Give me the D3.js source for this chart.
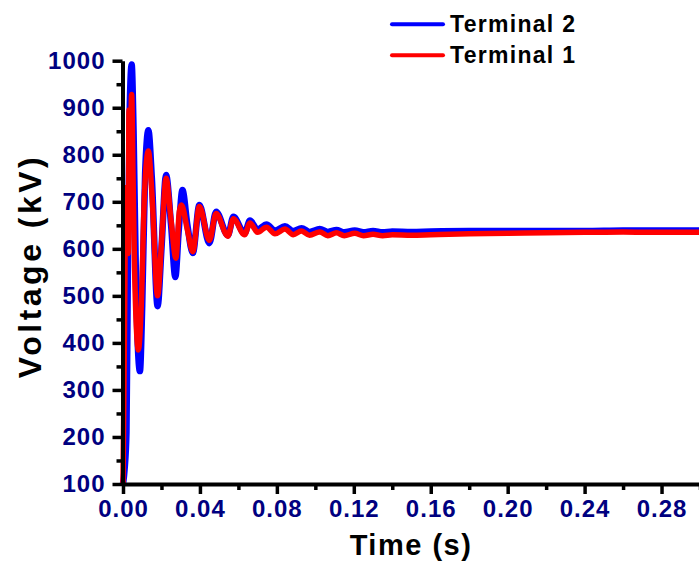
<!DOCTYPE html>
<html>
<head>
<meta charset="utf-8">
<title>Terminal voltage</title>
<script src="https://cdn.jsdelivr.net/npm/d3@7"></script>
<style>
  body { margin: 0; background: #fff; }
  svg text { font-family: "Liberation Sans", Arial, sans-serif; font-weight: bold; }
  .axis path, .axis line { stroke: #000; }
</style>
</head>
<body>
<div id="chart"></div>
<script>
// Terminal 2 (blue)
var t2 = [0, 0.0008, 0.0018, 0.0025, 0.0035, 0.0045, 0.0055, 0.0068, 0.0088, 0.0100,
  0.0115, 0.0132, 0.0150, 0.0180, 0.0200, 0.0224, 0.0250, 0.0272, 0.0290, 0.0309,
  0.0335, 0.0363, 0.0397, 0.0449, 0.0484, 0.0545, 0.0574, 0.0632, 0.0660, 0.0700,
  0.0746, 0.0790, 0.0842, 0.0885, 0.0928, 0.0970, 0.1023, 0.1065, 0.1110, 0.1150,
  0.1205, 0.1250, 0.1300, 0.1350, 0.1400, 0.1500, 0.1600, 0.1800, 0.2000, 0.2200,
  0.2400, 0.2600, 0.2800, 0.3000];
var v2 = [100, 130, 210, 540, 900, 992, 850, 520, 340, 480,
  760, 852, 750, 478, 600, 757, 650, 540, 640, 725,
  650, 591, 693, 612, 679, 629, 668, 633, 660, 641,
  652, 639, 648, 638, 644, 636, 642, 636, 640, 635,
  639, 635, 638, 635, 637, 636, 637, 638, 638, 638,
  638, 639, 639, 639];

// Terminal 1 (red)
var t1 = [0, 0.0005, 0.0010, 0.0014, 0.0020, 0.0027, 0.0031, 0.0038, 0.0045, 0.0052,
  0.0060, 0.0080, 0.0095, 0.0112, 0.0132, 0.0150, 0.0180, 0.0200, 0.0224, 0.0250,
  0.0275, 0.0293, 0.0304, 0.0335, 0.0363, 0.0397, 0.0449, 0.0484, 0.0545, 0.0574,
  0.0632, 0.0660, 0.0700, 0.0746, 0.0790, 0.0842, 0.0885, 0.0928, 0.0970, 0.1023,
  0.1065, 0.1110, 0.1150, 0.1205, 0.1250, 0.1300, 0.1350, 0.1400, 0.1500, 0.1600,
  0.1800, 0.2000, 0.2200, 0.2400, 0.2600, 0.2800, 0.3000];
var v1 = [100, 300, 545, 730, 650, 590, 895, 810, 928, 760,
  560, 385, 480, 720, 808, 720, 500, 610, 750, 660,
  580, 680, 693, 640, 594, 690, 618, 675, 627, 664,
  630, 655, 635, 646, 632, 642, 630, 638, 629, 636,
  628, 634, 628, 633, 628, 631, 628, 630, 629, 630,
  632, 633, 634, 635, 636, 635, 635];

var xMajor = [0, 0.04, 0.08, 0.12, 0.16, 0.20, 0.24, 0.28];
var xMinor = [0.02, 0.06, 0.10, 0.14, 0.18, 0.22, 0.26, 0.30];
var yMajor = [100, 200, 300, 400, 500, 600, 700, 800, 900, 1000];
var yMinor = [150, 250, 350, 450, 550, 650, 750, 850, 950];

var seriesNames = ["Terminal 2", "Terminal 1"];
var seriesColors = ["#0000ff", "#ff0000"];

var W = 699, H = 563;
var svg = d3.select("#chart").append("svg")
  .attr("width", W)
  .attr("height", H);

var x = d3.scaleLinear().domain([0, 0.30]).range([123, 700]);
var y = d3.scaleLinear().domain([100, 1000]).range([484, 60.7]);

var line = d3.line()
  .x(function(d){ return x(d.t); })
  .y(function(d){ return y(d.v); })
  .curve(d3.curveMonotoneX);

var series = [
  { name: seriesNames[0], color: seriesColors[0], width: 6.5, values: t2.map(function(t, i){ return {t: t, v: v2[i]}; }) },
  { name: seriesNames[1], color: seriesColors[1], width: 5.5, values: t1.map(function(t, i){ return {t: t, v: v1[i]}; }) }
];

svg.selectAll(".series")
  .data(series)
  .enter().append("path")
  .attr("class", "series")
  .attr("d", function(d){ return line(d.values); })
  .attr("fill", "none")
  .attr("stroke", function(d){ return d.color; })
  .attr("stroke-width", function(d){ return d.width; })
  .attr("stroke-linejoin", "round");

// minor ticks
svg.append("g")
  .attr("class", "axis")
  .attr("transform", "translate(0,484)")
  .call(d3.axisBottom(x).tickValues(xMinor).tickSize(6).tickFormat(""))
  .call(function(g){ g.select(".domain").remove(); })
  .selectAll("line").attr("stroke-width", 3.5);

svg.append("g")
  .attr("class", "axis")
  .attr("transform", "translate(122.5,0)")
  .call(d3.axisLeft(y).tickValues(yMinor).tickSize(6).tickFormat(""))
  .call(function(g){ g.select(".domain").remove(); })
  .selectAll("line").attr("stroke-width", 3.5);

// major axes
var xAxis = svg.append("g")
  .attr("class", "axis")
  .attr("transform", "translate(0,484)")
  .call(d3.axisBottom(x).tickValues(xMajor).tickSize(10).tickSizeOuter(0)
    .tickPadding(6).tickFormat(d3.format(".2f")));
xAxis.select(".domain").attr("stroke-width", 4);
xAxis.selectAll("line").attr("stroke-width", 3.5);

var yAxis = svg.append("g")
  .attr("class", "axis")
  .attr("transform", "translate(122.5,0)")
  .call(d3.axisLeft(y).tickValues(yMajor).tickSize(10).tickSizeOuter(0)
    .tickPadding(7).tickFormat(d3.format("d")));
yAxis.select(".domain").attr("stroke-width", 4);
yAxis.selectAll("line").attr("stroke-width", 3.5);

svg.selectAll(".tick text")
  .attr("fill", "#000080")
  .style("font-family", "'Liberation Sans', Arial, sans-serif")
  .style("font-weight", "bold")
  .style("font-size", "24px")
  .style("letter-spacing", "1px");

// axis titles
svg.append("text")
  .attr("x", 411)
  .attr("y", 555)
  .attr("text-anchor", "middle")
  .style("font-size", "29px")
  .style("letter-spacing", "1.5px")
  .text("Time (s)");

svg.append("text")
  .attr("transform", "translate(41,266) rotate(-90)")
  .attr("text-anchor", "middle")
  .style("font-size", "32px")
  .style("letter-spacing", "3.5px")
  .text("Voltage (kV)");

// legend
var legend = svg.selectAll(".legend")
  .data(series)
  .enter().append("g")
  .attr("class", "legend")
  .attr("transform", function(d, i){ return "translate(392," + (24.3 + i * 31) + ")"; });

legend.append("line")
  .attr("x1", 0).attr("x2", 51)
  .attr("stroke", function(d){ return d.color; })
  .attr("stroke-width", 4)
  .attr("stroke-linecap", "round");

legend.append("text")
  .attr("x", 58)
  .attr("y", 8)
  .style("font-size", "23px")
  .style("letter-spacing", "1.3px")
  .attr("fill", "#000")
  .text(function(d){ return d.name; });
</script>
</body>
</html>
